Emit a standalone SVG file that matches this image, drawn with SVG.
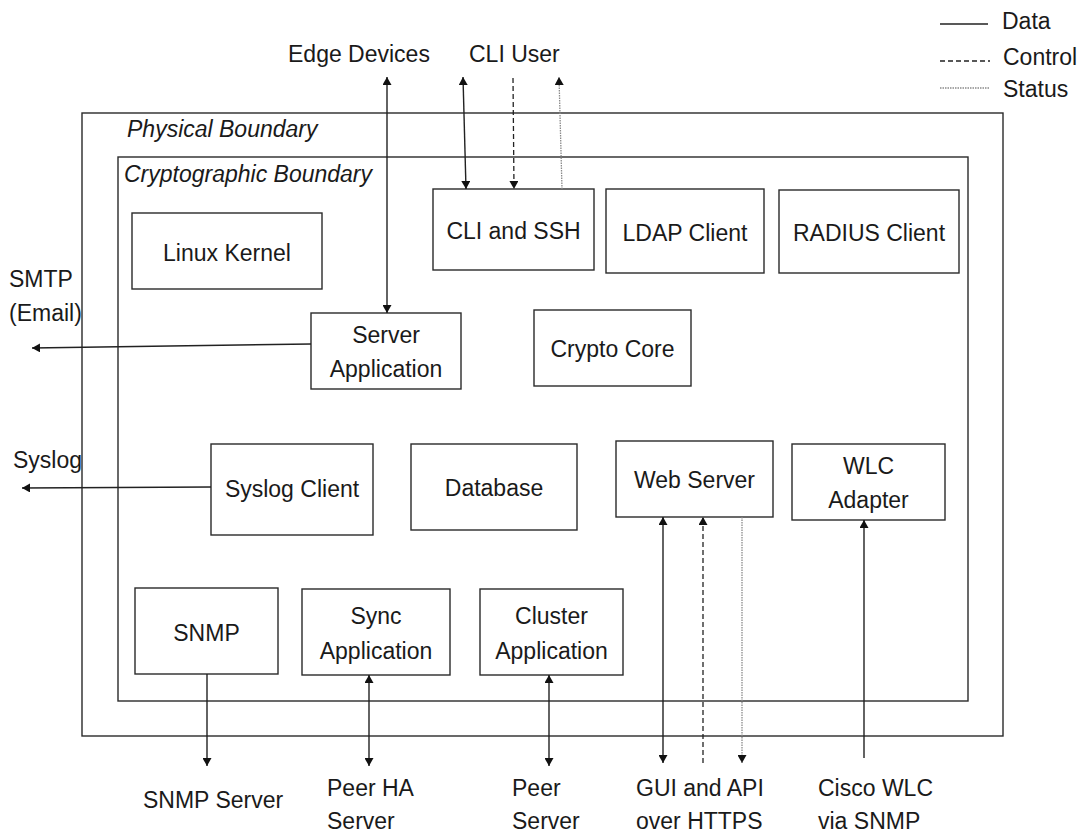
<svg xmlns="http://www.w3.org/2000/svg" width="1082" height="834" viewBox="0 0 1082 834">
  <style>
    text { font-family: "Liberation Sans", Arial, sans-serif; font-size: 23px; fill: #1a1a1a; }
    .mid { text-anchor: middle; }
    .it { font-style: italic; }
    .box { fill: #fff; stroke: #2a2a2a; stroke-width: 1.4; }
    .bound { fill: none; stroke: #2a2a2a; stroke-width: 1.4; }
    .data { stroke: #222; stroke-width: 1.4; fill: none; }
    .ctrl { stroke: #222; stroke-width: 1.3; fill: none; stroke-dasharray: 5 3; }
    .stat { stroke: #8a8a8a; stroke-width: 1.3; fill: none; stroke-dasharray: 1.5 1; }
  </style>
  <defs>
    <marker id="head" viewBox="0 0 8 9" refX="8" refY="4.5" markerWidth="8" markerHeight="9" markerUnits="userSpaceOnUse" orient="auto-start-reverse">
      <path d="M0,0 L8,4.5 L0,9 z" fill="#111"/>
    </marker>
  </defs>
  <rect width="1082" height="834" fill="#fff"/>

  <!-- legend -->
  <g id="legend">
    <line class="data" x1="940" y1="24" x2="988" y2="24"/>
    <line class="ctrl" x1="940" y1="61" x2="990" y2="61" stroke-dasharray="3 2"/>
    <line class="stat" x1="940" y1="88" x2="990" y2="88"/>
    <text x="1002" y="29">Data</text>
    <text x="1003" y="65">Control</text>
    <text x="1003" y="97">Status</text>
  </g>

  <!-- boundaries -->
  <g id="physical-boundary">
    <rect class="bound" x="82" y="113" width="921" height="623"/>
    <text class="it" x="127" y="137">Physical Boundary</text>
  </g>
  <g id="crypto-boundary">
    <rect class="bound" x="118" y="157" width="850" height="544"/>
    <text class="it" x="124" y="182">Cryptographic Boundary</text>
  </g>

  <!-- components -->
  <g id="linux-kernel">
    <rect class="box" x="132" y="213" width="190" height="76"/>
    <text class="mid" x="227" y="261">Linux Kernel</text>
  </g>
  <g id="cli-ssh">
    <rect class="box" x="433" y="189" width="161" height="81"/>
    <text class="mid" x="513.5" y="239">CLI and SSH</text>
  </g>
  <g id="ldap-client">
    <rect class="box" x="606" y="189" width="158" height="84"/>
    <text class="mid" x="685" y="241">LDAP Client</text>
  </g>
  <g id="radius-client">
    <rect class="box" x="779" y="190" width="180" height="83"/>
    <text class="mid" x="869" y="241">RADIUS Client</text>
  </g>
  <g id="server-application">
    <rect class="box" x="311" y="313" width="150" height="76"/>
    <text class="mid" x="386" y="343">Server</text>
    <text class="mid" x="386" y="377">Application</text>
  </g>
  <g id="crypto-core">
    <rect class="box" x="534" y="310" width="157" height="76"/>
    <text class="mid" x="612.5" y="357">Crypto Core</text>
  </g>
  <g id="syslog-client">
    <rect class="box" x="211" y="444" width="162" height="91"/>
    <text class="mid" x="292" y="497">Syslog Client</text>
  </g>
  <g id="database">
    <rect class="box" x="411" y="444" width="166" height="86"/>
    <text class="mid" x="494" y="496">Database</text>
  </g>
  <g id="web-server">
    <rect class="box" x="616" y="441" width="157" height="76"/>
    <text class="mid" x="694.5" y="488">Web Server</text>
  </g>
  <g id="wlc-adapter">
    <rect class="box" x="792" y="444" width="153" height="76"/>
    <text class="mid" x="868.5" y="474">WLC</text>
    <text class="mid" x="868.5" y="508">Adapter</text>
  </g>
  <g id="snmp">
    <rect class="box" x="135" y="588" width="143" height="86"/>
    <text class="mid" x="206.5" y="641">SNMP</text>
  </g>
  <g id="sync-application">
    <rect class="box" x="302" y="589" width="148" height="86"/>
    <text class="mid" x="376" y="624">Sync</text>
    <text class="mid" x="376" y="659">Application</text>
  </g>
  <g id="cluster-application">
    <rect class="box" x="480" y="589" width="143" height="86"/>
    <text class="mid" x="551.5" y="624">Cluster</text>
    <text class="mid" x="551.5" y="659">Application</text>
  </g>

  <!-- external endpoints -->
  <g id="edge-devices"><text x="288" y="62">Edge Devices</text></g>
  <g id="cli-user"><text x="469" y="62">CLI User</text></g>
  <g id="smtp"><text x="9" y="287">SMTP</text><text x="9" y="321">(Email)</text></g>
  <g id="syslog"><text x="13" y="468">Syslog</text></g>
  <g id="snmp-server"><text x="143" y="808">SNMP Server</text></g>
  <g id="peer-ha-server"><text x="327" y="796">Peer HA</text><text x="327" y="829">Server</text></g>
  <g id="peer-server"><text x="512" y="796">Peer</text><text x="512" y="829">Server</text></g>
  <g id="gui-api"><text x="636" y="796">GUI and API</text><text x="636" y="829">over HTTPS</text></g>
  <g id="cisco-wlc"><text x="818" y="796">Cisco WLC</text><text x="818" y="829">via SNMP</text></g>

  <!-- connectors -->
  <g id="connectors">
    <line class="data" x1="387" y1="77" x2="387" y2="313" marker-start="url(#head)" marker-end="url(#head)"/>
    <line class="data" x1="463" y1="77" x2="466" y2="189" marker-start="url(#head)" marker-end="url(#head)"/>
    <line class="ctrl" x1="513" y1="78" x2="514" y2="189" marker-end="url(#head)"/>
    <line class="stat" x1="562" y1="189" x2="559" y2="77" marker-end="url(#head)"/>
    <line class="data" x1="311" y1="344" x2="32" y2="348" marker-end="url(#head)"/>
    <line class="data" x1="211" y1="487" x2="22" y2="488" marker-end="url(#head)"/>
    <line class="data" x1="207" y1="674" x2="207" y2="766" marker-end="url(#head)"/>
    <line class="data" x1="369" y1="675" x2="369" y2="766" marker-start="url(#head)" marker-end="url(#head)"/>
    <line class="data" x1="549" y1="675" x2="549" y2="766" marker-start="url(#head)" marker-end="url(#head)"/>
    <line class="data" x1="663" y1="517" x2="663" y2="763" marker-start="url(#head)" marker-end="url(#head)"/>
    <line class="ctrl" x1="703" y1="763" x2="703" y2="517" marker-end="url(#head)"/>
    <line class="stat" x1="742" y1="517" x2="742" y2="763" marker-end="url(#head)"/>
    <line class="data" x1="864" y1="758" x2="864" y2="520" marker-end="url(#head)"/>
  </g>
</svg>
